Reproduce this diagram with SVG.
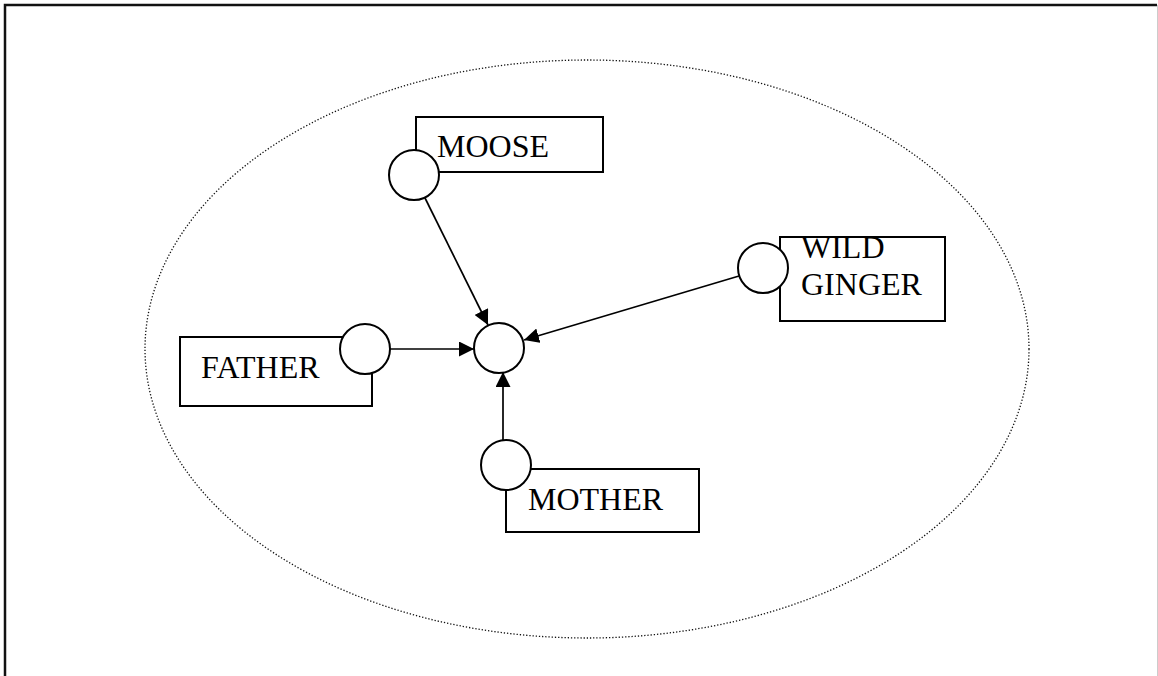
<svg xmlns="http://www.w3.org/2000/svg" width="1158" height="676" viewBox="0 0 1158 676">
<defs>
<style>
.box{fill:#fff;stroke:#000;stroke-width:2}
.c{fill:#fff;stroke:#000;stroke-width:2}
.t{font-family:"Liberation Serif","Times New Roman",serif;font-size:32px;fill:#000}
.e{stroke:#000;stroke-width:1.7;fill:none;marker-end:url(#ah)}
</style>
<marker id="ah" viewBox="0 0 10 10" refX="10" refY="5" markerWidth="15" markerHeight="15" markerUnits="userSpaceOnUse" orient="auto">
<path d="M0,0 L10,5 L0,10 Z" fill="#000"/>
</marker>
</defs>
<rect width="1158" height="676" fill="#fff"/>
<path d="M5,676 V5 H1157" fill="none" stroke="#111" stroke-width="2.5"/>
<line x1="1157.5" y1="5" x2="1157.5" y2="676" stroke="#ccc" stroke-width="1"/>
<ellipse id="boundary" cx="587" cy="349" rx="442" ry="289" fill="none" stroke="#111" stroke-width="1.3" stroke-dasharray="1.3 1.9"/>
<g id="connectors">
<line class="e" x1="425" y1="198" x2="488" y2="325"/>
<line class="e" x1="739" y1="276" x2="524" y2="340"/>
<line class="e" x1="390" y1="349" x2="474" y2="349"/>
<line class="e" x1="503" y1="440" x2="503" y2="372"/>
</g>
<g id="center"><circle class="c" cx="499" cy="348" r="25"/></g>
<g id="moose">
<rect class="box" x="416" y="117" width="187" height="55"/>
<circle class="c" cx="414" cy="175" r="25"/>
<text class="t" x="437" y="157">MOOSE</text>
</g>
<g id="wildginger">
<rect class="box" x="780" y="237" width="165" height="84"/>
<circle class="c" cx="763" cy="268" r="25"/>
<text class="t" x="801" y="258">WILD</text>
<text class="t" x="801" y="295">GINGER</text>
</g>
<g id="father">
<rect class="box" x="180" y="337" width="192" height="69"/>
<circle class="c" cx="365" cy="349" r="25"/>
<text class="t" x="201" y="378">FATHER</text>
</g>
<g id="mother">
<rect class="box" x="506" y="469" width="193" height="63"/>
<circle class="c" cx="506" cy="465" r="25"/>
<text class="t" x="528" y="510">MOTHER</text>
</g>
</svg>
